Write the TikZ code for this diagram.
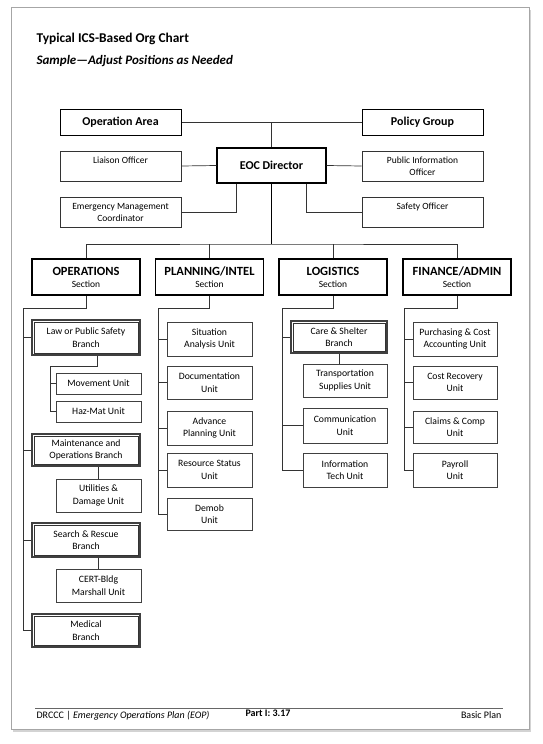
\documentclass[tikz,border=0pt]{standalone}
\usepackage{fontspec}
\setmainfont{Carlito}
\usepackage{xcolor}
\usepackage{tikz}
\usetikzlibrary{positioning,shadows,calc}

\tikzset{
  topbox/.style={draw, line width=1pt, minimum width=121pt, minimum height=26pt,
    font=\bfseries\fontsize{12}{14}\selectfont},
  staffbox/.style={draw=black!80, line width=.7pt, minimum width=121pt, minimum height=30pt,
    align=center, font=\fontsize{9.5}{12}\selectfont},
  secbox/.style={draw, line width=1.2pt, minimum width=108pt, minimum height=36pt,
    align=center, font=\fontsize{9.5}{12}\selectfont},
  branchbox/.style={draw=black!75, line width=1.3pt, minimum width=108pt,
    align=center, font=\fontsize{9.7}{12.5}\selectfont},
  unitbox/.style={draw=black!75, line width=.7pt, minimum width=85pt, minimum height=33pt,
    align=center, font=\fontsize{9.7}{12.5}\selectfont},
  link/.style={draw=black!80, line width=.7pt},
}

\begin{document}
\begin{tikzpicture}[x=1pt, y=-1pt]
\useasboundingbox (0,0) rectangle (542,744);

% Page
\filldraw[draw=black!35, fill=white, drop shadow={shadow xshift=2pt, shadow yshift=-2.5pt, opacity=.35}]
  (11,7) rectangle (529,729);

% Heading
\node[anchor=west, font=\bfseries\fontsize{13.4}{15}\selectfont] (title) at (33,39) {Typical ICS-Based Org Chart};
\node[anchor=west, font=\bfseries\itshape\fontsize{13}{15}\selectfont] (subtitle) at (33,61) {Sample---Adjust Positions as Needed};

% Command level
\node[topbox] (opa) at (120.5,122) {Operation Area};
\node[topbox] (pol) at (422.5,122) {Policy Group};
\node[topbox, line width=1.3pt, minimum width=109pt, minimum height=35pt] (eoc) at (271.5,165.5) {EOC Director};
\node[staffbox] (liaison) at (120.5,166) {Liaison Officer\\\phantom{O}};
\node[staffbox] (pio) at (422.5,166) {Public Information\\Officer};
\node[staffbox] (emc) at (120.5,212) {Emergency Management\\Coordinator};
\node[staffbox] (safety) at (422.5,212) {Safety Officer\\\phantom{O}};

\draw[link] (opa.east) -- (pol.west);
\draw[link] (eoc.north) -- (eoc.north |- opa.east);
\draw[link] (liaison.east) -- (eoc.west);
\draw[link] (pio.west) -- (eoc.east);
\draw[link] ([xshift=-35pt]eoc.south) |- (emc.east);
\draw[link] ([xshift=35pt]eoc.south) |- (safety.west);

% Sections
\node[secbox] (ops) at (86,277) {{\bfseries\fontsize{12.5}{14}\selectfont OPERATIONS}\\Section};
\node[secbox] (plan) at (209.5,277) {{\bfseries\fontsize{12.5}{14}\selectfont PLANNING/INTEL}\\Section};
\node[secbox] (log) at (333,277) {{\bfseries\fontsize{12.5}{14}\selectfont LOGISTICS}\\Section};
\node[secbox] (fin) at (457,277) {{\bfseries\fontsize{12.5}{14}\selectfont FINANCE/ADMIN}\\Section};

\coordinate (bus) at (271.5,244);
\draw[line width=.8pt] (eoc.south) -- (bus);
\draw[link] (ops.north) |- (bus) -| (fin.north);
\draw[link] (plan.north) -- (plan.north |- bus);
\draw[link] (log.north) -- (log.north |- bus);

% Operations
\node[branchbox, minimum height=35pt] (law) at (86,337.5) {Law or Public Safety\\Branch};
\node[unitbox, minimum height=21pt] (move) at (98.5,383.5) {Movement Unit};
\node[unitbox, minimum height=21pt] (hazmat) at (98.5,411.5) {Haz-Mat Unit};
\node[branchbox, minimum height=32pt] (maint) at (86,450) {Maintenance and\\Operations Branch};
\node[unitbox] (util) at (98.5,495.5) {Utilities \&\\Damage Unit};
\node[branchbox, minimum height=34pt] (sar) at (86,540) {Search \& Rescue\\Branch};
\node[unitbox] (cert) at (98.5,585.5) {CERT-Bldg\\Marshall Unit};
\node[branchbox, minimum height=33pt] (med) at (86,630.5) {Medical\\Branch};

\coordinate (opsbus) at (23,308);
\draw[link] (ops.south) |- (opsbus) |- (med.west);
\foreach \b in {law,maint,sar}
  \draw[link] (opsbus |- \b.west) -- (\b.west);
\coordinate (lawbus) at (50,366);
\draw[link] ([xshift=11pt]law.south) |- (lawbus) |- (hazmat.west);
\draw[link] (lawbus |- move.west) -- (move.west);
\draw[link] (util.north) -- (util.north |- maint.south);
\draw[link] (cert.north) -- (cert.north |- sar.south);

% Planning/Intel
\node[unitbox, minimum height=34pt] (sit) at (209.5,339) {Situation\\Analysis Unit};
\node[unitbox] (doc) at (209.5,382.5) {Documentation\\Unit};
\node[unitbox, minimum height=34pt] (adv) at (209.5,428) {Advance\\Planning Unit};
\node[unitbox, minimum height=34pt] (res) at (209.5,470) {Resource Status\\Unit};
\node[unitbox, minimum height=32pt] (demob) at (209.5,514) {Demob\\Unit};

\coordinate (planbus) at (158,308);
\draw[link] (plan.south) |- (planbus) |- (demob.west);
\foreach \u in {sit,doc,adv,res}
  \draw[link] (planbus |- \u.west) -- (\u.west);

% Logistics
\node[branchbox, minimum width=96pt, minimum height=32pt] (care) at (339,337) {Care \& Shelter\\Branch};
\node[unitbox, minimum width=84pt] (trans) at (345,380.5) {Transportation\\Supplies Unit};
\node[unitbox, minimum width=84pt, minimum height=35pt] (comm) at (345,425.5) {Communication\\Unit};
\node[unitbox, minimum width=84pt, minimum height=34pt] (itu) at (345,470) {Information\\Tech Unit};

\coordinate (logbus) at (282,308);
\draw[link] (log.south) |- (logbus) |- (itu.west);
\foreach \u in {care,comm}
  \draw[link] (logbus |- \u.west) -- (\u.west);
\draw[link] (trans.north -| care.south) -- (care.south);

% Inner rule of the branch boxes
\foreach \b in {law,maint,sar,med,care}
  \draw[black!80, line width=.5pt] ([shift={(2.4,2.4)}]\b.north west) rectangle ([shift={(-2.4,-2.4)}]\b.south east);

% Finance/Admin
\node[unitbox, minimum width=84pt, minimum height=34pt] (purch) at (455,339) {Purchasing \& Cost\\Accounting Unit};
\node[unitbox, minimum width=84pt] (cost) at (455,382.5) {Cost Recovery\\Unit};
\node[unitbox, minimum width=84pt, minimum height=32pt] (claims) at (455,427) {Claims \& Comp\\Unit};
\node[unitbox, minimum width=84pt, minimum height=34pt] (pay) at (455,470) {Payroll\\Unit};

\coordinate (finbus) at (404,308);
\draw[link] (fin.south) |- (finbus) |- (pay.west);
\foreach \u in {purch,cost,claims}
  \draw[link] (finbus |- \u.west) -- (\u.west);

% Footer
\coordinate (footl) at (35,708);
\coordinate (footr) at (503,708);
\draw[black!60, line width=.5pt] (footl) -- (footr);
\node[anchor=west, font=\fontsize{10}{12}\selectfont] (doctitle) at (33,715.5) {DRCCC | \textit{Emergency Operations Plan (EOP)}};
\node[font=\bfseries\fontsize{10}{12}\selectfont] (pageno) at (268,713.5) {Part I: 3.17};
\node[anchor=east, font=\fontsize{10}{12}\selectfont] (part) at (505,715.5) {Basic Plan};
\end{tikzpicture}
\end{document}
